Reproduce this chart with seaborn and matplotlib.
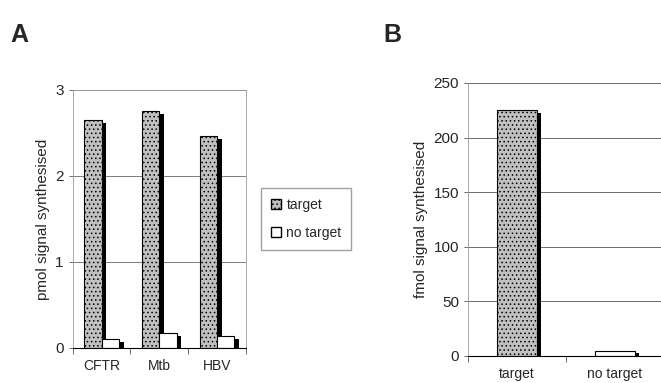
import pandas as pd
import matplotlib.pyplot as plt
import matplotlib.patheffects as pe
from matplotlib.ticker import FixedLocator
import seaborn as sns

# Painel A
alvos = ['CFTR', 'Mtb', 'HBV']
com_alvo = [2.65, 2.75, 2.46]
sem_alvo = [0.10, 0.17, 0.14]
# Painel B
condicoes = ['target', 'no target']
fmol = [225, 5]

sns.set_style('white')
plt.rcParams['font.family'] = ['Liberation Sans', 'DejaVu Sans']
plt.rcParams['hatch.color'] = '#555555'
plt.rcParams['hatch.linewidth'] = 0.6

dfA = pd.DataFrame({
    'alvo': alvos * 2,
    'valor': com_alvo + sem_alvo,
    'grupo': ['target'] * 3 + ['no target'] * 3,
})
dfB = pd.DataFrame({'cond': condicoes, 'valor': fmol})

fig = plt.figure(figsize=(6.61, 3.83), dpi=100)
axA = fig.add_axes([0.110, 0.0914, 0.262, 0.674])
axB = fig.add_axes([0.708, 0.0705, 0.2965, 0.713])

sombra = [pe.SimplePatchShadow(offset=(3.5, -2), shadow_rgbFace='black', alpha=1.0), pe.Normal()]

sns.barplot(dfA, x='alvo', y='valor', hue='grupo', palette=['#c0c0c0', 'white'],
            width=0.6, edgecolor='black', linewidth=0.8, ax=axA, legend=True)
for barra in axA.patches:
    barra.set_path_effects(sombra)
    if barra.get_facecolor()[0] < 0.9:
        barra.set_hatch('....')

sns.barplot(dfB, x='cond', y='valor', hue='cond', palette=['#c0c0c0', 'white'],
            width=0.4, edgecolor='black', linewidth=0.8, ax=axB, legend=False)
for barra in axB.patches:
    barra.set_path_effects(sombra)
    if barra.get_facecolor()[0] < 0.9:
        barra.set_hatch('....')

# eixo A
axA.set_ylim(0, 3)
axA.set_yticks([0, 1, 2, 3])
axA.set_xlim(-0.5, 2.5)
axA.set_xlabel('')
axA.set_ylabel('pmol signal synthesised', fontsize=11)
axA.yaxis.grid(True, color='#666666', linewidth=0.6)
axA.set_axisbelow(True)
for lado in ['top', 'right', 'left']:
    axA.spines[lado].set_color('#999999')
    axA.spines[lado].set_linewidth(0.6)
axA.spines['bottom'].set_color('black')
axA.spines['bottom'].set_linewidth(0.8)
leg = axA.legend(loc='center left', bbox_to_anchor=(1.05, 0.5), frameon=True, fancybox=False,
                 edgecolor='#888888', fontsize=10, handlelength=0.7, handleheight=0.7,
                 handletextpad=0.4, borderpad=0.7, labelspacing=1.0)
for h in leg.legend_handles:
    h.set_path_effects([])
    h.set_linewidth(1.0)

# eixo B
axB.set_ylim(0, 250)
axB.set_yticks([0, 50, 100, 150, 200, 250])
axB.set_xlim(-0.5, 1.5)
axB.set_xlabel('')
axB.set_ylabel('fmol signal synthesised', fontsize=11)
axB.yaxis.grid(True, color='#555555', linewidth=0.6)
axB.set_axisbelow(True)
for lado in ['top', 'right']:
    axB.spines[lado].set_visible(False)
axB.spines['left'].set_color('#999999')
axB.spines['left'].set_linewidth(0.6)
axB.spines['bottom'].set_color('black')
axB.spines['bottom'].set_linewidth(0.8)

for ax, n in [(axA, 3), (axB, 2)]:
    ax.xaxis.set_minor_locator(FixedLocator([i - 0.5 for i in range(n + 1)]))
    ax.tick_params(axis='x', which='major', length=0, labelsize=10, pad=8)
    ax.tick_params(axis='x', which='minor', length=4, width=0.6, color='#555555', direction='out', bottom=True)
    ax.tick_params(axis='y', length=3, width=0.6, color='#555555', direction='out', left=True, labelsize=11)

fig.text(0.015, 0.89, 'A', fontsize=18, fontweight='bold')
fig.text(0.58, 0.89, 'B', fontsize=18, fontweight='bold')

fig.savefig('out.png', dpi=100)
